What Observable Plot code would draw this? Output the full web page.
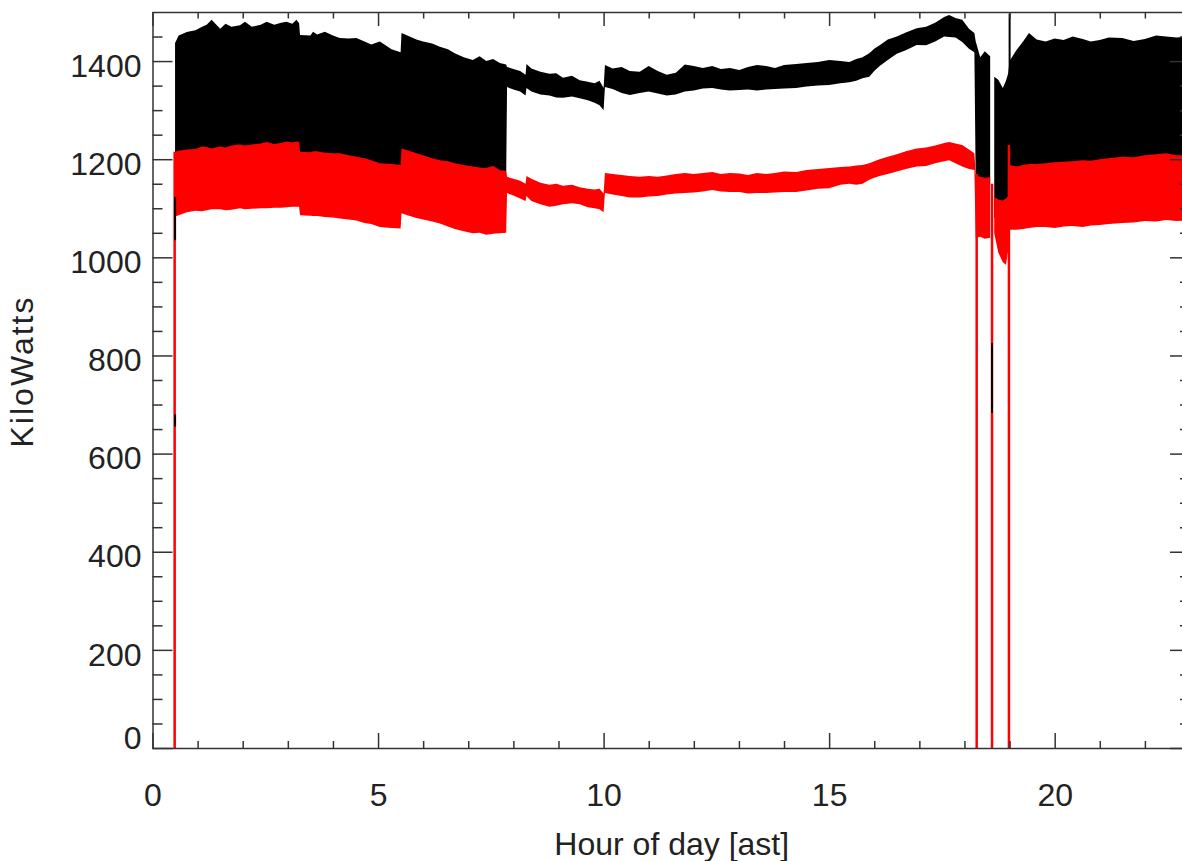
<!DOCTYPE html>
<html>
<head>
<meta charset="utf-8">
<script src="https://cdn.jsdelivr.net/npm/d3@7"></script>
<script src="https://cdn.jsdelivr.net/npm/@observablehq/plot@0.6"></script>
<style>
  html, body { margin: 0; padding: 0; background: #fff; overflow: hidden; }
  #chart { width: 1195px; height: 861px; }
</style>
</head>
<body>
<div id="chart"></div>
<script>
// ---- data ----
const hours = [
  0.50,0.58,0.76,0.95,1.10,1.20,1.31,1.50,1.62,1.75,1.94,2.05,2.20,2.40,2.53,2.70,2.85,2.97,3.10,3.19,3.25,
  3.27,3.50,3.56,3.65,3.82,4.00,4.15,4.35,4.52,4.70,4.85,5.04,5.30,5.50,
  5.52,5.65,5.85,6.00,6.20,6.37,6.55,6.70,6.90,7.10,7.25,7.40,7.55,7.70,7.84,
  7.86,8.00,8.15,8.27,8.29,8.40,8.60,8.80,8.95,9.10,9.30,9.47,9.65,9.80,9.91,10.00,
  10.03,10.20,10.40,10.58,10.80,11.00,11.20,11.40,11.60,11.80,12.00,12.20,12.41,12.60,12.80,13.01,
  13.20,13.40,13.60,13.80,14.00,14.27,14.50,14.75,15.00,15.25,15.45,15.60,15.74,15.89,16.00,16.12,
  16.30,16.50,16.70,16.94,17.15,17.35,17.55,17.66,17.80,17.95,18.10,18.22,
  18.25,18.35,18.45,18.57,18.60,
  18.66,18.75,18.85,18.92,18.97,
  19.00,19.15,19.30,19.43,19.60,19.80,20.00,20.20,20.40,20.62,20.80,21.00,21.20,21.50,21.75,22.00,22.25,22.47,22.70,23.00
];
const blackHigh = [
  1437,1452,1459,1463,1470,1474,1484,1466,1476,1470,1473,1480,1470,1474,1480,1474,1478,1480,1476,1484,1477,
  1453,1452,1460,1454,1460,1452,1447,1446,1447,1440,1434,1440,1424,1418,
  1457,1452,1444,1440,1436,1429,1424,1416,1408,1402,1410,1400,1404,1396,1393,
  1388,1384,1380,1372,1394,1385,1378,1374,1375,1366,1370,1361,1358,1355,1360,1345,
  1392,1385,1388,1380,1378,1390,1380,1372,1376,1393,1390,1386,1390,1384,1386,1382,
  1388,1392,1390,1386,1392,1394,1396,1398,1402,1400,1398,1404,1408,1416,1425,1432,
  1444,1450,1458,1467,1470,1478,1490,1494,1488,1484,1466,1457,
  1440,1408,1420,1410,NaN,
  1368,1362,1345,1360,1375,
  1400,1422,1440,1457,1444,1440,1446,1443,1450,1445,1440,1443,1448,1447,1441,1445,1452,1450,1448,1450
];
const blackLow = [
  1190,1190,1195,1195,1200,1200,1200,1200,1200,1200,1200,1200,1200,1200,1200,1200,1200,1200,1200,1200,1200,
  1190,1190,1190,1190,1190,1190,1190,1180,1180,1180,1180,1170,1170,1170,
  1190,1190,1190,1180,1180,1180,1170,1170,1170,1160,1160,1160,1160,1160,1160,
  1347,1342,1338,1330,1345,1338,1332,1330,1326,1325,1328,1324,1320,1315,1310,1300,
  1347,1343,1335,1331,1335,1338,1334,1330,1332,1338,1340,1344,1345,1342,1340,1341,
  1342,1340,1342,1343,1344,1345,1348,1350,1351,1355,1357,1360,1365,1368,1380,1390,
  1402,1415,1422,1433,1432,1440,1450,1449,1448,1439,1425,1418,
  1150,1150,1150,1150,NaN,
  1080,1080,1080,1080,1080,
  1150,1150,1150,1160,1160,1160,1160,1160,1160,1160,1160,1160,1160,1160,1160,1160,1160,1160,1160,1160
];
const redHigh = [
  1215,1217,1220,1221,1226,1225,1222,1226,1224,1228,1230,1228,1230,1232,1235,1231,1233,1236,1234,1236,1235,
  1215,1214,1216,1216,1213,1212,1212,1208,1205,1202,1198,1192,1190,1188,
  1222,1218,1212,1208,1202,1198,1196,1192,1188,1185,1183,1182,1186,1178,1176,
  1164,1160,1156,1150,1166,1160,1152,1148,1150,1146,1148,1143,1140,1138,1140,1130,
  1172,1170,1168,1166,1164,1166,1164,1167,1170,1172,1170,1172,1174,1170,1172,1171,
  1168,1172,1170,1172,1175,1174,1178,1180,1182,1184,1185,1187,1188,1192,1196,1200,
  1205,1210,1216,1222,1224,1228,1233,1235,1232,1229,1220,1212,
  1168,1164,1162,1163,NaN,
  1123,1118,1116,1120,1125,
  1188,1185,1188,1190,1190,1192,1194,1195,1196,1198,1197,1200,1202,1205,1204,1208,1210,1212,1208,1208
];
const redLow = [
  1083,1086,1092,1095,1094,1096,1098,1098,1096,1097,1100,1098,1099,1100,1100,1101,1101,1102,1103,1103,1103,
  1086,1085,1084,1084,1082,1081,1079,1077,1075,1070,1068,1062,1060,1059,
  1090,1086,1080,1077,1073,1069,1063,1058,1053,1049,1050,1046,1048,1049,1050,
  1131,1126,1120,1115,1125,1115,1108,1103,1105,1108,1110,1108,1102,1100,1098,1092,
  1131,1128,1125,1122,1122,1124,1125,1128,1130,1131,1132,1134,1137,1134,1133,1133,
  1130,1131,1131,1132,1133,1133,1136,1140,1141,1148,1150,1148,1150,1158,1162,1166,
  1170,1175,1180,1185,1186,1192,1196,1198,1192,1185,1180,1178,
  1040,1042,1038,1040,NaN,
  1049,1010,990,985,1014,
  1056,1056,1058,1060,1062,1062,1060,1063,1064,1062,1065,1066,1068,1070,1071,1074,1073,1076,1074,1075
];
// vertical drop-outs of the red series (down to 0 kW)
const redDropHours = [0.48, 18.26, 18.60, 18.975];
const redDropTops  = [1215, 1170, 1150, 1229];
// short vertical strokes of the black series
const blackSpikeHours = [0.49, 0.49, 18.60, 18.99];
const blackSpikeLows  = [1035, 655, 683, 1300];
const blackSpikeHighs = [1123, 680, 825, 1497];
// axis ticks
const xMajor = [0, 5, 10, 15, 20];
const xMinor = d3.range(1, 24).filter(d => d % 5 !== 0);
const yMajor = [0, 200, 400, 600, 800, 1000, 1200, 1400];
const yMinor = d3.range(50, 1500, 50).filter(d => d % 200 !== 0);
const xTitle = "Hour of day [ast]";
const yTitle = "KiloWatts";

// ---- tables for the library ----
const series = hours.map((t, i) => ({t, bHi: blackHigh[i], bLo: blackLow[i], rHi: redHigh[i], rLo: redLow[i]}));
const redDrops = redDropHours.map((t, i) => ({t, top: redDropTops[i]}));
const blackSpikes = blackSpikeHours.map((t, i) => ({t, lo: blackSpikeLows[i], hi: blackSpikeHighs[i]}));

const width = 1195, height = 861;
const mL = 152.5, mR = 5, mT = 12, mB = 113;
const W = width - mL - mR, H = height - mT - mB;
const axisColor = "#333";
const textColor = "#222";

const chart = Plot.plot({
  width, height,
  marginLeft: mL, marginRight: mR, marginTop: mT, marginBottom: mB,
  x: {domain: [0, 23], axis: null},
  y: {domain: [0, 1500], axis: null},
  style: {fontFamily: "'Liberation Sans', Helvetica, Arial, sans-serif", fontSize: "32px", background: "#fff", overflow: "visible"},
  marks: [
    Plot.areaY(series, {x: "t", y1: "bLo", y2: "bHi", fill: "#000", curve: "linear"}),
    Plot.areaY(series, {x: "t", y1: "rLo", y2: "rHi", fill: "#ff0000", curve: "linear"}),
    Plot.ruleX(redDrops, {x: "t", y1: 0, y2: "top", stroke: "#ff0000", strokeWidth: 2.5}),
    Plot.ruleX(blackSpikes, {x: "t", y1: "lo", y2: "hi", stroke: "#000", strokeWidth: 2}),
    // frame
    Plot.frame({stroke: axisColor, strokeWidth: 1.5}),
    // y ticks (inward, both sides)
    Plot.tickY(yMajor, {y: d => d, insetRight: W - 20, stroke: axisColor, strokeWidth: 1.5}),
    Plot.tickY(yMajor, {y: d => d, insetLeft: W - 20, stroke: axisColor, strokeWidth: 1.5}),
    Plot.tickY(yMinor, {y: d => d, insetRight: W - 10, stroke: axisColor, strokeWidth: 1.5}),
    Plot.tickY(yMinor, {y: d => d, insetLeft: W - 10, stroke: axisColor, strokeWidth: 1.5}),
    // x ticks (inward, bottom and top)
    Plot.tickX(xMajor, {x: d => d, insetTop: H - 15, stroke: axisColor, strokeWidth: 1.5}),
    Plot.tickX(xMajor, {x: d => d, insetBottom: H - 14, stroke: axisColor, strokeWidth: 1.5}),
    Plot.tickX(xMinor, {x: d => d, insetTop: H - 7, stroke: axisColor, strokeWidth: 1.5}),
    Plot.tickX(xMinor, {x: d => d, insetBottom: H - 6.5, stroke: axisColor, strokeWidth: 1.5}),
    // tick labels
    Plot.text(yMajor.filter(d => d > 0), {y: d => d, text: d => String(d), frameAnchor: "left", textAnchor: "end", dx: -11.5, dy: 5, fill: textColor}),
    Plot.text(yMajor.filter(d => d === 0), {y: d => d, text: d => String(d), frameAnchor: "left", textAnchor: "end", dx: -11.5, dy: -9.5, fill: textColor}),
    Plot.text(xMajor, {x: d => d, text: d => String(d), frameAnchor: "bottom", lineAnchor: "top", dy: 35, fill: textColor}),
    // axis titles
    Plot.text([xTitle], {text: d => d, frameAnchor: "bottom", textAnchor: "middle", lineAnchor: "top", dy: 84, fill: textColor}),
    Plot.text([yTitle], {text: d => d, frameAnchor: "left", textAnchor: "middle", rotate: -90, dx: -130.5, dy: -9, fill: textColor, fontSize: 32})
  ]
});
// widen the y title's letter spacing to match the reference
for (const t of chart.querySelectorAll("text")) {
  if (t.textContent === yTitle) t.style.letterSpacing = "2px";
}
document.getElementById("chart").appendChild(chart);
</script>
</body>
</html>
